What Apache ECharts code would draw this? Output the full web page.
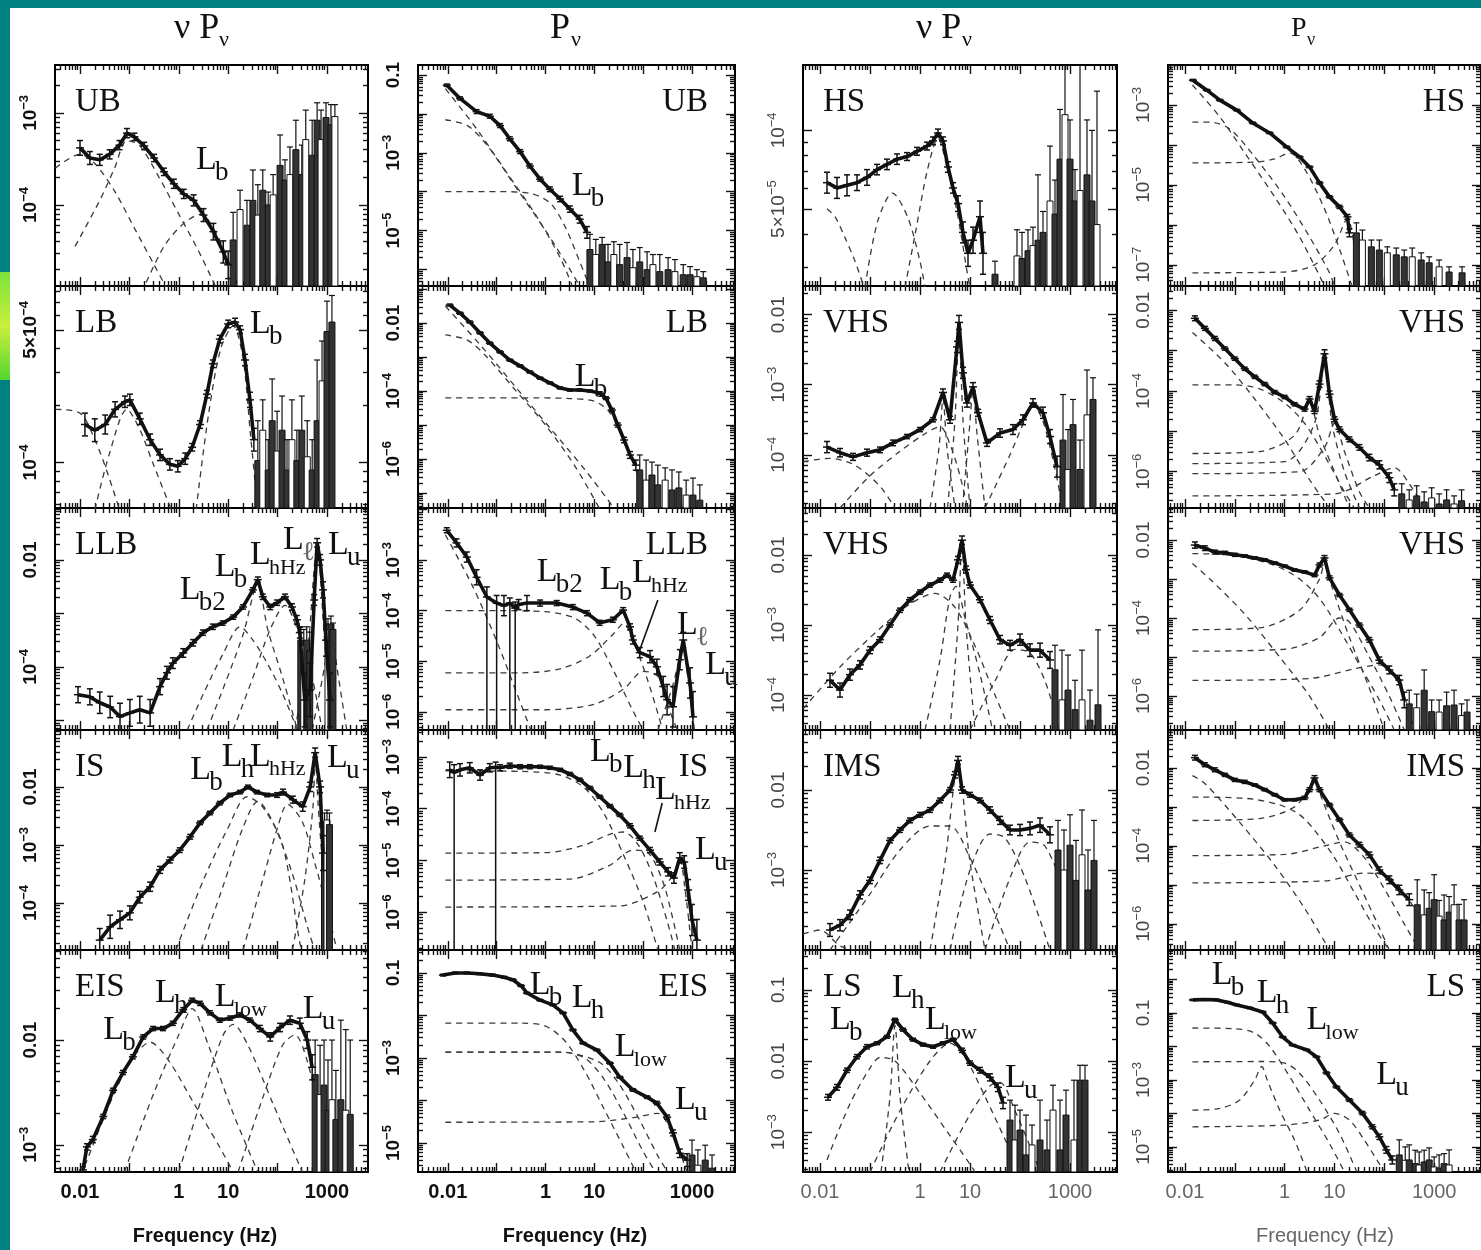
<!DOCTYPE html>
<html><head><meta charset="utf-8">
<script src="https://cdn.jsdelivr.net/npm/echarts@6/dist/echarts.min.js"></script>
<style>html,body{margin:0;padding:0;background:#fff;}#c{width:1481px;height:1250px;}</style>
</head><body><div id="c"></div>
<script>
// All values are stored as log10(frequency / Hz) and log10(power).
// Points: [logF, logP, errDown(dex), errUp(dex, optional)]; noise: [logF, logP, logTopOfErrorBar]
// Components: [[logF, logP], ...]; marks: [subscript, logF, logP]

const xTickValues = [0.01, 1, 10, 1000];
const xTickLabels = ['0.01', '1', '10', '1000'];

// ===== column 1 : nu P_nu =====
const ubAPts = [[-2.0,-3.38,0.08],[-1.8,-3.49,0.07],[-1.6,-3.51,0.06],[-1.4,-3.45,0.05],[-1.2,-3.35,0.05],[-1.05,-3.22,0.05],[-0.9,-3.26,0.04],[-0.7,-3.36,0.04],[-0.5,-3.49,0.04],[-0.3,-3.64,0.04],[-0.1,-3.77,0.05],[0.1,-3.88,0.05],[0.3,-3.95,0.06],[0.5,-4.11,0.07],[0.7,-4.29,0.09],[0.9,-4.51,0.12],[1.0,-4.65,0.15]];
const ubANoise = [[1.10,-4.38,-4.08],[1.24,-4.05,-3.84],[1.38,-4.22,-3.95],[1.50,-3.95,-3.62],[1.60,-4.11,-3.78],[1.70,-3.84,-3.62],[1.81,-4.00,-3.86],[1.91,-3.89,-3.67],[2.05,-3.57,-3.24],[2.15,-3.73,-3.51],[2.25,-3.67,-3.37],[2.37,-3.40,-3.08],[2.49,-3.67,-3.35],[2.57,-3.29,-2.97],[2.70,-3.46,-3.08],[2.80,-3.08,-2.89],[2.88,-3.29,-2.97],[2.98,-3.05,-2.89],[3.08,-3.13,-2.91],[3.16,-3.04,-2.91]];
const ubAComps = [
  [[-2.5,-3.6],[-2.0,-3.45],[-1.7,-3.55],[-1.3,-3.85],[-0.9,-4.25],[-0.5,-4.65],[-0.2,-4.95]],
  [[-2.1,-4.45],[-1.6,-3.95],[-1.3,-3.6],[-1.05,-3.3],[-0.8,-3.35],[-0.4,-3.7],[0.0,-4.1],[0.4,-4.5],[0.8,-4.95]],
  [[-0.75,-4.95],[-0.3,-4.45],[0.1,-4.2],[0.45,-4.1],[0.75,-4.3],[1.0,-4.6],[1.25,-4.95]]];
const ubAMarks = [['b',0.35,-3.51]];

const lbAPts = [[-1.90,-3.80,0.06],[-1.70,-3.83,0.06],[-1.49,-3.80,0.05],[-1.29,-3.72,0.04],[-1.09,-3.68,0.03],[-0.99,-3.67,0.03],[-0.79,-3.77,0.03],[-0.58,-3.88,0.03],[-0.38,-3.96,0.03],[-0.18,-4.01,0.03],[-0.02,-4.02,0.03],[0.13,-3.98,0.03],[0.27,-3.92,0.02],[0.43,-3.80,0.02],[0.57,-3.64,0.02],[0.69,-3.48,0.02],[0.83,-3.35,0.02],[1.00,-3.27,0.02],[1.14,-3.26,0.02],[1.24,-3.30,0.02],[1.34,-3.46,0.03],[1.44,-3.67,0.04],[1.52,-3.88,0.06]];
const lbANoise = [[1.60,-3.99,-3.78],[1.70,-3.83,-3.67],[1.81,-4.04,-3.88],[1.89,-3.78,-3.56],[1.99,-3.94,-3.73],[2.09,-3.83,-3.65],[2.19,-4.04,-3.88],[2.29,-3.88,-3.67],[2.39,-3.99,-3.83],[2.49,-3.83,-3.65],[2.60,-3.97,-3.78],[2.70,-4.04,-3.88],[2.80,-3.78,-3.46],[2.90,-3.57,-3.36],[3.00,-3.31,-3.15],[3.10,-3.26,-3.12]];
const lbAComps = [
  [[-2.5,-3.72],[-2.0,-3.74],[-1.7,-3.88],[-1.45,-4.05],[-1.2,-4.25]],
  [[-1.7,-4.25],[-1.4,-3.95],[-1.05,-3.72],[-0.8,-3.82],[-0.5,-4.02],[-0.15,-4.25]],
  [[0.35,-4.25],[0.6,-3.75],[0.85,-3.4],[1.1,-3.28],[1.3,-3.45],[1.45,-3.85],[1.6,-4.25]]];
const lbAMarks = [['b',1.44,-3.27]];

const llbAPts = [[-2.04,-4.52,0.15],[-1.80,-4.56,0.15],[-1.60,-4.67,0.2],[-1.39,-4.75,0.2],[-1.19,-4.93,0.25],[-0.99,-4.86,0.25],[-0.79,-4.80,0.25],[-0.58,-4.86,0.25],[-0.38,-4.37,0.15],[-0.24,-4.11,0.12],[-0.12,-3.93,0.1],[0.09,-3.74,0.08],[0.29,-3.55,0.06],[0.49,-3.36,0.05],[0.69,-3.25,0.05],[0.89,-3.18,0.04],[1.10,-3.07,0.04],[1.30,-2.88,0.04],[1.50,-2.56,0.04],[1.60,-2.37,0.05],[1.70,-2.69,0.05],[1.85,-2.88,0.05],[1.99,-2.80,0.05],[2.15,-2.69,0.05],[2.29,-2.88,0.06],[2.39,-3.12,0.08],[2.45,-3.36,0.1],[2.55,-4.62,0.5],[2.66,-4.43,0.5],[2.74,-2.75,0.1],[2.80,-1.68,0.08],[2.86,-2.0,0.1],[2.92,-2.56,0.15],[2.98,-3.5,0.3],[3.06,-4.62,0.5]];
const llbANoise = [[2.47,-3.5,-3.25],[2.53,-3.6,-3.3],[2.59,-3.5,-3.25],[2.65,-3.7,-3.35],[3.02,-3.3,-3.1],[3.08,-3.2,-3.05],[3.12,-3.3,-3.18]];
const llbAComps = [
  [[0.17,-5.18],[0.5,-4.5],[0.9,-3.75],[1.24,-3.25],[1.5,-3.5],[1.8,-3.95],[2.1,-4.5],[2.4,-5.18]],
  [[0.57,-5.18],[0.9,-4.4],[1.3,-3.4],[1.6,-2.45],[1.8,-3.3],[2.1,-4.2],[2.4,-5.18]],
  [[1.1,-5.18],[1.5,-4.2],[1.85,-3.3],[2.15,-2.85],[2.4,-3.3],[2.7,-4.2],[2.9,-5.18]],
  [[2.35,-5.18],[2.6,-3.8],[2.8,-1.75],[2.95,-3.5],[3.1,-5.18]],
  [[2.7,-5.18],[2.95,-4.0],[3.08,-3.2],[3.2,-4.0],[3.4,-5.18]]];
const llbAMarks = [['b2',0.02,-2.56],['b',0.73,-2.13],['hHz',1.44,-1.91],['\u2113',2.11,-1.63],['u',3.02,-1.72]];

const isAPts = [[-1.60,-4.64,0.2],[-1.39,-4.41,0.2],[-1.19,-4.29,0.15],[-0.99,-4.17,0.12],[-0.79,-3.90,0.1],[-0.58,-3.72,0.08],[-0.38,-3.43,0.06],[-0.18,-3.26,0.05],[0.02,-3.09,0.04],[0.23,-2.86,0.04],[0.43,-2.62,0.03],[0.63,-2.45,0.03],[0.83,-2.28,0.03],[1.04,-2.14,0.03],[1.24,-2.09,0.03],[1.40,-2.00,0.03],[1.58,-2.09,0.03],[1.79,-2.14,0.03],[1.99,-2.14,0.04],[2.11,-2.09,0.05],[2.31,-2.22,0.06],[2.51,-2.34,0.08],[2.66,-2.00,0.08],[2.76,-1.41,0.08],[2.86,-2.00,0.1],[2.92,-3.14,0.3]];
const isANoise = [[2.95,-2.6,-2.45],[3.0,-2.57,-2.4],[3.05,-2.65,-2.45]];
const isAComps = [
  [[-0.06,-4.81],[0.5,-3.6],[1.0,-2.7],[1.38,-2.17],[1.7,-2.35],[2.1,-3.0],[2.45,-4.69],[2.5,-4.81]],
  [[0.45,-4.81],[0.9,-3.7],[1.3,-2.7],[1.6,-2.25],[1.9,-2.6],[2.3,-3.5],[2.6,-4.4],[2.75,-4.81]],
  [[1.3,-4.81],[1.7,-3.6],[2.0,-2.7],[2.2,-2.3],[2.5,-2.6],[2.75,-3.3],[3.0,-4.1],[3.2,-4.81]],
  [[2.3,-4.81],[2.55,-3.6],[2.72,-2.3],[2.76,-1.45],[2.82,-2.3],[2.95,-3.8],[3.05,-4.81]]];
const isAMarks = [['b',0.23,-1.71],['h',0.87,-1.48],['hHz',1.44,-1.48],['u',3.0,-1.5]];

const eisAPts = [[-1.94,-3.24,0.03],[-1.86,-3.02,0.03],[-1.74,-2.95,0.03],[-1.53,-2.73,0.02],[-1.33,-2.48,0.02],[-1.13,-2.31,0.02],[-0.93,-2.16,0.02],[-0.72,-1.97,0.02],[-0.52,-1.89,0.02],[-0.32,-1.89,0.02],[-0.12,-1.84,0.02],[0.09,-1.71,0.02],[0.27,-1.62,0.02],[0.43,-1.65,0.02],[0.63,-1.74,0.02],[0.83,-1.81,0.02],[1.04,-1.79,0.02],[1.24,-1.76,0.02],[1.44,-1.81,0.02],[1.64,-1.89,0.03],[1.85,-1.97,0.04],[2.05,-1.88,0.04],[2.25,-1.81,0.04],[2.45,-1.84,0.05],[2.60,-2.00,0.08],[2.70,-2.26,0.12]];
const eisANoise = [[2.76,-2.33,-2.0],[2.86,-2.52,-2.05],[2.94,-2.43,-2.0],[3.02,-2.67,-2.19],[3.10,-2.57,-2.0],[3.18,-2.76,-2.29],[3.28,-2.57,-1.81],[3.38,-2.67,-1.90],[3.47,-2.71,-2.0]];
const eisAComps = [
  [[-1.9,-3.2],[-1.3,-2.5],[-0.9,-2.15],[-0.58,-2.02],[-0.2,-2.2],[0.3,-2.6],[0.8,-3.0],[1.1,-3.26]],
  [[-1.1,-3.26],[-0.5,-2.5],[0.0,-1.95],[0.27,-1.7],[0.6,-2.05],[1.1,-2.7],[1.6,-3.26]],
  [[0.0,-3.26],[0.5,-2.5],[0.9,-1.95],[1.1,-1.85],[1.4,-2.05],[1.9,-2.6],[2.5,-3.26]],
  [[1.2,-3.26],[1.7,-2.55],[2.1,-2.05],[2.35,-1.95],[2.6,-2.2],[2.9,-2.8],[3.1,-3.26]]];
const eisAMarks = [['b',-1.53,-1.90],['h',-0.48,-1.55],['low',0.73,-1.59],['u',2.51,-1.70]];

// ===== column 2 : P_nu =====
const ubBPts = [[-2.02,-1.26,0.03],[-1.75,-1.60,0.04],[-1.41,-1.94,0.05],[-1.14,-2.06,0.05],[-0.93,-2.30,0.05],[-0.73,-2.64,0.05],[-0.52,-2.97,0.05],[-0.32,-3.34,0.05],[-0.11,-3.68,0.05],[0.09,-3.94,0.06],[0.30,-4.19,0.07],[0.50,-4.45,0.08],[0.70,-4.71,0.1],[0.85,-5.05,0.15]];
const ubBNoise = [[0.91,-5.49,-5.10],[1.03,-5.62,-5.23],[1.16,-5.36,-5.18],[1.28,-5.81,-5.36],[1.40,-5.62,-5.29],[1.52,-5.88,-5.36],[1.67,-5.70,-5.31],[1.79,-5.96,-5.49],[1.93,-5.81,-5.44],[2.08,-6.01,-5.55],[2.20,-5.88,-5.62],[2.34,-6.06,-5.62],[2.51,-6.01,-5.70],[2.65,-6.06,-5.75],[2.82,-6.14,-5.88],[2.96,-6.14,-5.93],[3.10,-6.19,-6.01],[3.23,-6.22,-6.06]];
const ubBComps = [
  [[-2.05,-2.15],[-1.6,-2.3],[-1.2,-2.8],[-0.6,-3.9],[0.0,-5.0],[0.5,-6.0],[0.7,-6.43]],
  [[-2.05,-1.35],[-1.4,-2.4],[-0.8,-3.5],[-0.2,-4.6],[0.3,-5.7],[0.55,-6.43]],
  [[-2.05,-4.0],[-1.0,-4.0],[-0.3,-4.05],[0.1,-4.3],[0.4,-4.9],[0.7,-5.8],[0.9,-6.43]]];
const ubBMarks = [['b',0.54,-3.86]];

const lbBPts = [[-1.96,-1.47,0.03],[-1.75,-1.71,0.03],[-1.55,-1.97,0.03],[-1.34,-2.29,0.03],[-1.14,-2.59,0.03],[-0.93,-2.85,0.03],[-0.73,-3.09,0.03],[-0.52,-3.26,0.03],[-0.32,-3.44,0.03],[-0.11,-3.62,0.03],[0.09,-3.76,0.03],[0.30,-3.91,0.03],[0.50,-3.97,0.03],[0.70,-3.97,0.03],[0.91,-4.00,0.03],[1.11,-4.06,0.04],[1.24,-4.21,0.04],[1.36,-4.56,0.05],[1.48,-5.00,0.06],[1.61,-5.44,0.08],[1.73,-5.88,0.1],[1.85,-6.18,0.15]];
const lbBNoise = [[1.93,-6.32,-5.88],[2.06,-6.62,-6.03],[2.18,-6.47,-6.09],[2.30,-6.76,-6.18],[2.45,-6.62,-6.26],[2.59,-6.91,-6.32],[2.73,-6.85,-6.38],[2.88,-7.06,-6.62],[3.02,-7.06,-6.56],[3.16,-7.21,-6.76]];
const lbBComps = [
  [[-2.05,-2.35],[-1.6,-2.5],[-1.2,-3.0],[-0.6,-4.0],[0.0,-5.0],[0.6,-6.2],[1.1,-7.44]],
  [[-2.05,-1.5],[-1.3,-2.7],[-0.6,-3.9],[0.1,-5.1],[0.8,-6.3],[1.4,-7.44]],
  [[-2.05,-4.2],[-0.5,-4.2],[0.5,-4.22],[1.0,-4.3],[1.3,-4.6],[1.6,-5.4],[1.9,-6.5],[2.2,-7.44]]];
const lbBMarks = [['b',0.60,-3.59]];

const llbBPts = [[-2.02,-2.41,0.05],[-1.82,-2.66,0.08],[-1.61,-2.94,0.1],[-1.41,-3.34,0.15],[-1.20,-3.73,3,0.2],[-1.00,-3.85,3,0.15],[-0.85,-3.9,0.2],[-0.73,-3.85,3,0.1],[-0.62,-3.95,3,0.12],[-0.55,-3.88,0.1],[-0.38,-3.85,0.15],[-0.11,-3.85,0.06],[0.23,-3.85,0.05],[0.56,-3.93,0.05],[0.85,-4.05,0.05],[1.11,-4.24,0.05],[1.38,-4.18,0.05],[1.59,-3.99,0.05],[1.73,-4.32,0.06],[1.79,-4.58,0.08],[1.93,-4.83,0.1],[2.14,-4.91,0.12],[2.28,-5.11,0.15],[2.41,-5.50,0.2],[2.49,-5.76,0.3],[2.61,-5.90,0.4],[2.75,-4.97,0.2],[2.82,-4.58,0.15],[2.96,-5.43,0.3],[3.02,-6.10,0.5]];
const llbBNoise = [];
const llbBComps = [
  [[-2.05,-4.0],[-1.0,-4.0],[0.0,-4.02],[0.6,-4.15],[1.0,-4.5],[1.4,-5.2],[1.8,-6.0],[2.0,-6.36]],
  [[-2.05,-5.23],[-0.5,-5.23],[0.3,-5.15],[0.9,-4.9],[1.4,-4.45],[1.6,-4.25],[1.8,-4.6],[2.1,-5.4],[2.4,-6.36]],
  [[-2.05,-5.96],[0.0,-5.96],[1.0,-5.85],[1.6,-5.55],[2.0,-5.2],[2.3,-5.3],[2.55,-6.0],[2.7,-6.36]],
  [[-2.05,-2.5],[-1.5,-3.5],[-1.0,-4.6],[-0.6,-5.6],[-0.3,-6.36]],
  [[2.3,-6.36],[2.6,-5.5],[2.75,-4.9],[2.82,-4.6],[2.9,-5.2],[3.05,-6.36]]];
const llbBMarks = [['b2',-0.18,-3.24],['b',1.11,-3.39],['hHz',1.77,-3.26],['\u2113',2.69,-4.28],['u',3.27,-5.07]];
const llbBArrow = [[2.30,-3.79],[1.93,-4.78]];

const isBPts = [[-1.96,-3.25,0.15],[-1.87,-3.3,4,0.15],[-1.75,-3.25,0.12],[-1.55,-3.21,0.1],[-1.34,-3.35,0.1],[-1.14,-3.21,0.08],[-1.02,-3.2,4,0.1],[-0.93,-3.21,0.06],[-0.73,-3.17,0.05],[-0.52,-3.19,0.04],[-0.32,-3.19,0.04],[-0.11,-3.19,0.03],[0.09,-3.21,0.03],[0.30,-3.25,0.03],[0.50,-3.33,0.03],[0.70,-3.44,0.03],[0.91,-3.60,0.03],[1.11,-3.77,0.03],[1.32,-3.95,0.03],[1.52,-4.12,0.03],[1.73,-4.33,0.04],[1.93,-4.57,0.04],[2.14,-4.80,0.05],[2.34,-5.03,0.06],[2.51,-5.22,0.08],[2.63,-5.34,0.1],[2.75,-4.95,0.1],[2.84,-5.03,0.12],[2.92,-5.57,0.2],[3.00,-6.15,0.3],[3.10,-6.54,0.4]];
const isBNoise = [];
const isBComps = [
  [[-2.05,-3.27],[-0.5,-3.28],[0.3,-3.35],[0.8,-3.6],[1.2,-4.1],[1.6,-4.9],[2.0,-5.8],[2.3,-6.73]],
  [[-2.05,-4.86],[0.0,-4.85],[0.8,-4.7],[1.3,-4.5],[1.6,-4.45],[1.9,-4.7],[2.2,-5.3],[2.5,-6.2],[2.65,-6.73]],
  [[-2.05,-5.38],[0.5,-5.36],[1.3,-5.1],[1.8,-4.8],[2.1,-4.85],[2.4,-5.4],[2.6,-6.1],[2.75,-6.73]],
  [[-2.05,-5.9],[1.5,-5.88],[2.3,-5.6],[2.6,-5.3],[2.75,-5.0],[2.85,-5.5],[3.0,-6.73]]];
const isBMarks = [['b',0.91,-2.90],['h',1.59,-3.21],['hHz',2.24,-3.64],['u',3.06,-4.80]];
const isBArrow = [[2.39,-3.89],[2.24,-4.45]];

const eisBPts = [[-2.10,-1.05,0.02],[-1.85,-1.0,0.02],[-1.61,-1.00,0.02],[-1.35,-1.02,0.02],[-1.08,-1.05,0.02],[-0.85,-1.1,0.02],[-0.67,-1.16,0.02],[-0.50,-1.30,0.02],[-0.38,-1.47,0.02],[-0.11,-1.64,0.02],[0.15,-1.75,0.02],[0.36,-1.94,0.02],[0.56,-2.34,0.02],[0.77,-2.65,0.02],[1.05,-2.81,0.02],[1.32,-3.12,0.02],[1.52,-3.45,0.02],[1.79,-3.75,0.03],[2.08,-3.92,0.03],[2.28,-4.06,0.04],[2.49,-4.39,0.05],[2.61,-4.76,0.07],[2.75,-5.24,0.1],[2.90,-5.40,0.15]];
const eisBNoise = [[3.00,-5.28,-4.93],[3.12,-5.52,-5.16],[3.27,-5.40,-5.05],[3.41,-5.59,-5.28]];
const eisBComps = [
  [[-2.05,-2.18],[-0.5,-2.18],[0.0,-2.25],[0.4,-2.6],[0.8,-3.3],[1.2,-4.2],[1.6,-5.1],[1.85,-5.68]],
  [[-2.05,-2.86],[0.3,-2.86],[0.8,-3.0],[1.2,-3.5],[1.6,-4.3],[2.0,-5.2],[2.25,-5.68]],
  [[-2.05,-2.86],[0.3,-2.86],[1.1,-3.1],[1.5,-3.6],[1.9,-4.4],[2.3,-5.3],[2.5,-5.68]],
  [[-2.05,-4.51],[1.0,-4.5],[1.8,-4.4],[2.3,-4.3],[2.6,-4.8],[2.9,-5.68]]];
const eisBMarks = [['b',-0.32,-1.28],['h',0.54,-1.59],['low',1.42,-2.74],['u',2.65,-3.99]];

// ===== column 3 : nu P_nu =====
const hsCPts = [[-1.86,-4.20,0.04],[-1.66,-4.22,0.04],[-1.46,-4.21,0.04],[-1.26,-4.20,0.03],[-1.06,-4.18,0.03],[-0.86,-4.15,0.02],[-0.66,-4.13,0.02],[-0.46,-4.11,0.02],[-0.26,-4.10,0.015],[-0.06,-4.08,0.015],[0.14,-4.06,0.015],[0.26,-4.04,0.015],[0.36,-4.01,0.015],[0.46,-4.04,0.015],[0.56,-4.14,0.02],[0.66,-4.22,0.02],[0.76,-4.28,0.03],[0.86,-4.39,0.04],[0.96,-4.47,0.05],[1.06,-4.42,0.05],[1.20,-4.33,0.06],[1.26,-4.47,0.08]];
const hsCNoise = [[1.5,-4.55,-4.5],[1.94,-4.48,-4.38],[2.04,-4.49,-4.39],[2.16,-4.46,-4.38],[2.26,-4.44,-4.37],[2.36,-4.42,-4.17],[2.46,-4.39,-4.31],[2.60,-4.27,-4.06],[2.70,-4.32,-4.19],[2.80,-4.11,-3.92],[2.90,-3.94,-3.75],[3.00,-4.11,-3.96],[3.10,-4.27,-4.15],[3.20,-4.23,-3.75],[3.34,-4.17,-3.96],[3.44,-4.27,-4.00],[3.54,-4.36,-3.85]];
const hsCComps = [
  [[-1.86,-4.30],[-1.7,-4.33],[-1.5,-4.41],[-1.3,-4.5],[-1.12,-4.6]],
  [[-1.1,-4.6],[-0.85,-4.35],[-0.55,-4.24],[-0.25,-4.33],[0.0,-4.5],[0.1,-4.6]],
  [[-0.3,-4.6],[-0.1,-4.4],[0.15,-4.15],[0.36,-4.03],[0.55,-4.15],[0.75,-4.32],[0.95,-4.55],[1.0,-4.6]]];
const hsCMarks = [];

const vhsCPts = [[-1.86,-3.89,0.08],[-1.60,-3.97,0.06],[-1.34,-4.03,0.05],[-1.06,-3.97,0.05],[-0.80,-3.93,0.04],[-0.54,-3.83,0.04],[-0.26,-3.74,0.03],[0.00,-3.64,0.03],[0.26,-3.50,0.03],[0.46,-3.11,0.05],[0.60,-3.50,0.05],[0.74,-2.46,0.08],[0.78,-2.11,0.1],[0.86,-2.83,0.08],[0.94,-3.26,0.06],[1.06,-3.03,0.06],[1.16,-3.40,0.05],[1.34,-3.83,0.05],[1.60,-3.69,0.06],[1.86,-3.64,0.07],[2.06,-3.50,0.07],[2.26,-3.26,0.06],[2.46,-3.40,0.08],[2.60,-3.74,0.1],[2.74,-4.17,0.15]];
const vhsCNoise = [[2.86,-3.79,-3.14],[2.96,-4.21,-3.64],[3.06,-3.57,-3.21],[3.20,-4.21,-3.79],[3.34,-3.43,-2.79],[3.46,-3.21,-2.90]];
const vhsCComps = [
  [[-2.34,-4.1],[-1.8,-4.05],[-1.3,-4.15],[-0.8,-4.45],[-0.5,-4.76]],
  [[-1.6,-4.76],[-1.0,-4.3],[-0.4,-3.95],[0.1,-3.7],[0.4,-3.6],[0.6,-3.85],[0.8,-4.3],[0.95,-4.76]],
  [[0.2,-4.76],[0.38,-3.9],[0.46,-3.2],[0.54,-3.9],[0.7,-4.76]],
  [[0.55,-4.76],[0.7,-3.5],[0.78,-2.15],[0.86,-3.5],[1.0,-4.76]],
  [[0.85,-4.76],[0.98,-3.7],[1.06,-3.1],[1.14,-3.7],[1.3,-4.76]],
  [[1.3,-4.76],[1.8,-4.0],[2.1,-3.5],[2.26,-3.3],[2.45,-3.5],[2.7,-4.2],[2.85,-4.76]]];
const vhsCMarks = [];

const vhs2CPts = [[-1.80,-3.79,0.1],[-1.60,-3.93,0.1],[-1.40,-3.71,0.08],[-1.20,-3.57,0.06],[-1.00,-3.36,0.05],[-0.80,-3.21,0.04],[-0.60,-3.00,0.03],[-0.40,-2.79,0.03],[-0.20,-2.64,0.03],[0.00,-2.53,0.03],[0.20,-2.43,0.03],[0.40,-2.36,0.03],[0.54,-2.29,0.03],[0.66,-2.36,0.03],[0.76,-2.07,0.05],[0.84,-1.79,0.06],[0.92,-2.21,0.05],[1.00,-2.43,0.04],[1.20,-2.64,0.04],[1.40,-2.93,0.05],[1.60,-3.21,0.06],[1.80,-3.29,0.07],[2.00,-3.21,0.08],[2.20,-3.36,0.09],[2.40,-3.36,0.1],[2.60,-3.50,0.12]];
const vhs2CNoise = [[2.70,-3.64,-3.29],[2.84,-4.07,-3.36],[2.96,-3.93,-3.43],[3.10,-4.21,-3.79],[3.24,-4.07,-3.36],[3.40,-4.36,-3.93],[3.56,-4.14,-3.07]];
const vhs2CComps = [
  [[-2.34,-4.2],[-1.6,-3.6],[-0.8,-3.05],[-0.2,-2.7],[0.3,-2.55],[0.7,-2.75],[1.1,-3.3],[1.5,-4.0],[1.8,-4.5]],
  [[0.1,-4.5],[0.4,-3.5],[0.6,-2.6],[0.72,-2.45],[0.9,-2.9],[1.2,-3.7],[1.45,-4.5]],
  [[0.6,-4.5],[0.76,-3.0],[0.84,-1.85],[0.92,-3.0],[1.1,-4.5]],
  [[1.0,-4.5],[1.5,-3.8],[1.9,-3.35],[2.2,-3.4],[2.5,-3.8],[2.8,-4.5]]];
const vhs2CMarks = [];

const imsCPts = [[-1.80,-3.75,0.08],[-1.60,-3.69,0.07],[-1.40,-3.56,0.06],[-1.20,-3.31,0.05],[-1.00,-3.13,0.04],[-0.80,-2.88,0.04],[-0.60,-2.63,0.03],[-0.40,-2.50,0.03],[-0.20,-2.38,0.03],[0.00,-2.31,0.03],[0.20,-2.25,0.03],[0.40,-2.13,0.03],[0.60,-2.00,0.03],[0.70,-1.81,0.04],[0.76,-1.63,0.05],[0.84,-2.00,0.04],[1.00,-2.06,0.03],[1.20,-2.13,0.03],[1.40,-2.25,0.04],[1.60,-2.38,0.05],[1.80,-2.50,0.06],[2.00,-2.50,0.07],[2.20,-2.48,0.08],[2.40,-2.44,0.09],[2.60,-2.56,0.1]];
const imsCNoise = [[2.76,-2.75,-2.38],[2.88,-3.0,-2.5],[3.0,-2.69,-2.31],[3.12,-3.13,-2.63],[3.24,-2.81,-2.25],[3.36,-3.25,-2.75],[3.48,-2.88,-2.38]];
const imsCComps = [
  [[-2.34,-3.8],[-2.0,-3.75],[-1.6,-3.95],[-1.3,-4.0]],
  [[-1.8,-4.0],[-1.0,-3.3],[-0.4,-2.75],[0.2,-2.45],[0.6,-2.45],[1.0,-2.85],[1.4,-3.4],[1.8,-4.0]],
  [[0.2,-4.0],[0.5,-2.9],[0.76,-1.7],[1.0,-2.9],[1.3,-4.0]],
  [[0.6,-4.0],[1.0,-3.0],[1.4,-2.55],[1.7,-2.6],[2.1,-3.1],[2.6,-4.0]],
  [[1.3,-4.0],[1.8,-3.1],[2.2,-2.65],[2.5,-2.7],[2.9,-3.3],[3.2,-4.0]]];
const imsCMarks = [];

const lsCPts = [[-1.84,-2.51,0.04],[-1.66,-2.37,0.04],[-1.46,-2.13,0.03],[-1.26,-1.94,0.03],[-1.06,-1.80,0.03],[-0.86,-1.75,0.02],[-0.66,-1.66,0.02],[-0.50,-1.42,0.02],[-0.34,-1.56,0.02],[-0.14,-1.70,0.02],[0.06,-1.77,0.02],[0.26,-1.80,0.02],[0.46,-1.75,0.02],[0.66,-1.70,0.02],[0.84,-1.85,0.03],[1.00,-2.03,0.03],[1.20,-2.13,0.04],[1.40,-2.23,0.05],[1.56,-2.37,0.06],[1.66,-2.59,0.08]];
const lsCNoise = [[1.80,-2.83,-2.55],[1.90,-3.11,-2.62],[2.00,-2.97,-2.69],[2.12,-3.32,-2.76],[2.24,-3.18,-2.90],[2.40,-3.11,-2.55],[2.54,-3.25,-2.83],[2.66,-2.69,-2.34],[2.80,-3.25,-2.55],[2.92,-2.76,-2.41],[3.08,-3.11,-2.27],[3.20,-2.27,-2.06],[3.30,-2.27,-2.06]];
const lsCComps = [
  [[-1.86,-3.39],[-1.4,-2.6],[-1.0,-2.1],[-0.8,-1.95],[-0.5,-2.0],[0.0,-2.45],[0.6,-3.05],[1.0,-3.45],[1.1,-3.56]],
  [[-0.78,-3.56],[-0.6,-2.5],[-0.5,-1.5],[-0.4,-2.5],[-0.22,-3.56]],
  [[-1.0,-3.56],[-0.4,-2.7],[0.2,-2.0],[0.6,-1.75],[0.9,-1.95],[1.3,-2.5],[1.7,-3.1],[2.0,-3.56]],
  [[0.4,-3.56],[1.0,-2.75],[1.4,-2.35],[1.6,-2.3],[1.9,-2.7],[2.2,-3.2],[2.4,-3.56]]];
const lsCMarks = [['b',-1.8,-1.42],['h',-0.56,-0.97],['low',0.10,-1.42],['u',1.70,-2.24]];

// ===== column 4 : P_nu =====
const hsDPts = [[-1.84,-2.38,0.02],[-1.56,-2.63,0.02],[-1.30,-2.88,0.02],[-0.96,-3.13,0.02],[-0.64,-3.45,0.02],[-0.30,-3.70,0.02],[0.04,-4.05,0.02],[0.30,-4.30,0.02],[0.50,-4.55,0.02],[0.70,-4.95,0.03],[0.90,-5.30,0.03],[1.10,-5.55,0.04],[1.26,-5.80,0.06],[1.30,-6.20,0.1]];
const hsDNoise = [[1.44,-6.20,-5.95],[1.56,-6.38,-6.13],[1.74,-6.55,-6.38],[1.90,-6.63,-6.38],[2.06,-6.70,-6.55],[2.24,-6.75,-6.58],[2.40,-6.80,-6.63],[2.56,-6.80,-6.58],[2.74,-6.88,-6.70],[2.90,-6.95,-6.80],[3.10,-7.05,-6.88],[3.30,-7.18,-7.05],[3.56,-7.20,-7.05]];
const hsDComps = [
  [[-1.85,-3.43],[-1.5,-3.43],[-1.1,-3.6],[-0.6,-4.3],[0.0,-5.3],[0.5,-6.3],[0.9,-7.2],[1.0,-7.53]],
  [[-1.85,-4.45],[-0.6,-4.43],[-0.2,-4.35],[0.1,-4.2],[0.4,-4.6],[0.8,-5.6],[1.1,-6.6],[1.35,-7.53]],
  [[-1.85,-7.2],[0.0,-7.18],[0.6,-7.0],[1.0,-6.5],[1.26,-5.85],[1.4,-6.5],[1.55,-7.53]],
  [[-1.85,-2.5],[-1.3,-3.3],[-0.8,-4.2],[-0.2,-5.3],[0.3,-6.3],[0.8,-7.53]]];
const hsDMarks = [];

const vhsDPts = [[-1.80,-2.20,0.06],[-1.60,-2.45,0.05],[-1.40,-2.70,0.05],[-1.20,-2.95,0.04],[-1.00,-3.20,0.04],[-0.80,-3.45,0.04],[-0.60,-3.65,0.04],[-0.40,-3.83,0.04],[-0.20,-4.03,0.04],[0.00,-4.15,0.04],[0.20,-4.33,0.04],[0.40,-4.45,0.05],[0.50,-4.20,0.06],[0.60,-4.50,0.06],[0.70,-3.83,0.08],[0.80,-3.08,0.1],[0.90,-4.08,0.08],[1.00,-4.70,0.06],[1.10,-4.95,0.06],[1.30,-5.20,0.06],[1.50,-5.40,0.07],[1.70,-5.65,0.08],[1.90,-5.83,0.1],[2.10,-6.15,0.12],[2.20,-6.45,0.15]];
const vhsDNoise = [[2.35,-6.55,-6.3],[2.5,-6.7,-6.45],[2.65,-6.6,-6.35],[2.8,-6.75,-6.5],[2.95,-6.65,-6.4],[3.1,-6.8,-6.55],[3.25,-6.7,-6.45],[3.4,-6.8,-6.6],[3.55,-6.72,-6.45]];
const vhsDComps = [
  [[-1.85,-2.55],[-1.2,-3.3],[-0.6,-4.2],[0.0,-5.2],[0.5,-6.2],[0.9,-6.9]],
  [[-1.85,-3.85],[-1.0,-3.85],[-0.5,-3.95],[0.0,-4.3],[0.4,-4.8],[0.8,-5.6],[1.2,-6.5],[1.4,-6.9]],
  [[-1.85,-5.55],[-0.5,-5.5],[0.2,-5.1],[0.5,-4.3],[0.7,-5.1],[1.0,-6.0],[1.3,-6.9]],
  [[-1.85,-5.8],[0.0,-5.75],[0.6,-4.8],[0.8,-3.15],[0.95,-4.8],[1.2,-6.0],[1.5,-6.9]],
  [[-1.85,-6.05],[0.3,-6.0],[0.8,-5.4],[1.0,-4.8],[1.2,-5.5],[1.5,-6.5],[1.7,-6.9]],
  [[-1.85,-6.6],[1.0,-6.55],[1.8,-6.1],[2.2,-5.9],[2.5,-6.3],[2.8,-6.9]]];
const vhsDMarks = [];

const vhs2DPts = [[-1.80,-2.13,0.08],[-1.60,-2.21,0.06],[-1.40,-2.31,0.05],[-1.20,-2.33,0.04],[-1.00,-2.38,0.04],[-0.80,-2.41,0.03],[-0.60,-2.46,0.03],[-0.40,-2.51,0.03],[-0.20,-2.59,0.03],[0.00,-2.67,0.03],[0.20,-2.77,0.03],[0.40,-2.82,0.03],[0.60,-2.90,0.04],[0.70,-2.64,0.05],[0.80,-2.46,0.06],[0.90,-2.97,0.05],[1.10,-3.41,0.04],[1.30,-3.79,0.04],[1.50,-4.18,0.05],[1.70,-4.56,0.06],[1.90,-5.08,0.08],[2.10,-5.33,0.1],[2.30,-5.59,0.12],[2.40,-6.10,0.2]];
const vhs2DNoise = [[2.5,-6.2,-5.85],[2.65,-6.3,-5.95],[2.8,-5.85,-5.33],[2.95,-6.4,-6.1],[3.1,-6.41,-6.10],[3.25,-6.25,-5.9],[3.4,-6.23,-5.85],[3.55,-6.5,-6.2],[3.66,-6.41,-6.10]];
const vhs2DComps = [
  [[-1.85,-2.6],[-1.5,-3.0],[-0.8,-3.9],[-0.1,-5.0],[0.5,-6.0],[0.9,-6.87]],
  [[-1.85,-2.35],[-1.0,-2.4],[-0.2,-2.65],[0.3,-3.0],[0.7,-3.5],[1.1,-4.3],[1.5,-5.2],[1.9,-6.1],[2.2,-6.87]],
  [[-1.85,-4.3],[-0.5,-4.25],[0.3,-3.8],[0.7,-3.0],[0.8,-2.6],[0.95,-3.2],[1.3,-4.5],[1.7,-5.8],[2.0,-6.87]],
  [[-1.85,-4.85],[0.0,-4.8],[0.7,-4.5],[1.1,-4.0],[1.3,-4.1],[1.7,-5.0],[2.1,-6.0],[2.4,-6.87]],
  [[-1.85,-5.6],[0.5,-5.55],[1.4,-5.3],[1.9,-5.2],[2.3,-5.7],[2.6,-6.87]]];
const vhs2DMarks = [];

const imsDPts = [[-1.80,-1.74,0.06],[-1.60,-1.92,0.05],[-1.40,-2.05,0.05],[-1.20,-2.18,0.04],[-1.00,-2.31,0.04],[-0.80,-2.36,0.04],[-0.60,-2.44,0.03],[-0.40,-2.56,0.03],[-0.20,-2.69,0.03],[0.00,-2.82,0.03],[0.20,-2.82,0.03],[0.40,-2.77,0.04],[0.50,-2.56,0.05],[0.60,-2.26,0.06],[0.70,-2.56,0.05],[0.90,-2.95,0.04],[1.10,-3.33,0.04],[1.30,-3.72,0.05],[1.50,-3.97,0.06],[1.70,-4.23,0.07],[1.90,-4.62,0.08],[2.10,-4.87,0.1],[2.30,-5.13,0.12],[2.50,-5.38,0.15]];
const imsDNoise = [[2.66,-5.51,-4.87],[2.80,-5.77,-5.13],[2.9,-5.6,-5.2],[3.0,-5.38,-4.74],[3.1,-5.8,-5.4],[3.2,-5.90,-5.26],[3.3,-5.7,-5.3],[3.4,-5.51,-5.0],[3.5,-5.9,-5.5],[3.6,-5.90,-5.38]];
const imsDComps = [
  [[-1.85,-2.2],[-1.6,-2.4],[-0.9,-3.4],[-0.2,-4.5],[0.4,-5.6],[0.9,-6.67]],
  [[-1.85,-2.75],[-0.8,-2.78],[-0.1,-2.95],[0.3,-3.2],[0.6,-3.6],[1.0,-4.3],[1.4,-5.2],[1.8,-6.1],[2.1,-6.67]],
  [[-1.85,-3.35],[-0.5,-3.3],[0.2,-3.0],[0.5,-2.5],[0.6,-2.3],[0.75,-2.8],[1.1,-3.9],[1.5,-5.0],[1.9,-6.1],[2.1,-6.67]],
  [[-1.85,-4.25],[0.0,-4.22],[0.8,-4.0],[1.2,-3.9],[1.6,-4.3],[2.0,-5.1],[2.4,-6.0],[2.7,-6.67]],
  [[-1.85,-4.95],[0.8,-4.9],[1.6,-4.7],[2.1,-4.8],[2.5,-5.4],[2.9,-6.2],[3.2,-6.67]]];
const imsDMarks = [];

const lsDPts = [[-1.84,-0.61,0.02],[-1.60,-0.60,0.02],[-1.36,-0.61,0.02],[-1.15,-0.68,0.02],[-0.96,-0.76,0.02],[-0.70,-0.85,0.02],[-0.44,-0.97,0.02],[-0.24,-1.30,0.02],[-0.04,-1.72,0.02],[0.16,-1.96,0.02],[0.44,-2.10,0.02],[0.64,-2.31,0.02],[0.84,-2.79,0.03],[1.04,-3.21,0.03],[1.30,-3.60,0.04],[1.56,-3.99,0.05],[1.76,-4.40,0.06],[1.90,-4.70,0.08],[2.04,-5.09,0.1],[2.16,-5.39,0.12]];
const lsDNoise = [[2.30,-5.24,-4.79],[2.42,-5.4,-5.0],[2.50,-5.39,-4.94],[2.62,-5.5,-5.1],[2.70,-5.54,-5.15],[2.80,-5.45,-5.1],[2.90,-5.39,-5.03],[3.0,-5.6,-5.3],[3.10,-5.63,-5.24],[3.20,-5.5,-5.2],[3.30,-5.54,-5.09]];
const lsDComps = [
  [[-1.85,-1.45],[-1.0,-1.47],[-0.6,-1.6],[-0.3,-2.0],[0.1,-2.9],[0.5,-3.9],[0.9,-4.9],[1.2,-5.75]],
  [[-1.85,-3.9],[-1.3,-3.85],[-0.9,-3.6],[-0.6,-3.0],[-0.46,-2.6],[-0.35,-3.0],[-0.1,-3.9],[0.2,-4.8],[0.45,-5.75]],
  [[-1.85,-2.46],[-0.5,-2.45],[0.0,-2.5],[0.3,-2.8],[0.7,-3.6],[1.1,-4.6],[1.45,-5.75]],
  [[-1.85,-4.4],[0.0,-4.35],[0.7,-4.2],[1.0,-4.0],[1.3,-4.2],[1.6,-4.8],[2.0,-5.75]]];
const lsDMarks = [['b',-1.46,0.13],['h',-0.56,-0.40],['low',0.44,-1.21],['u',1.84,-2.85]];

// y tick labels: [value, mantissa, exponent]
const yl_a = [[1e-3,'10','−3'],[1e-4,'10','−4']];
const yl_b = [[5e-4,'5×10','−4'],[1e-4,'10','−4']];
const yl_c = [[1e-2,'0.01',''],[1e-4,'10','−4']];
const yl_d = [[1e-2,'0.01',''],[1e-3,'10','−3'],[1e-4,'10','−4']];
const yl_e = [[1e-2,'0.01',''],[1e-3,'10','−3']];
const yl_f = [[0.1,'0.1',''],[1e-3,'10','−3'],[1e-5,'10','−5']];
const yl_g = [[1e-2,'0.01',''],[1e-4,'10','−4'],[1e-6,'10','−6']];
const yl_h = [[1e-3,'10','−3'],[1e-4,'10','−4'],[1e-5,'10','−5'],[1e-6,'10','−6']];
const yl_i = [[1e-4,'10','−4'],[5e-5,'5×10','−5']];
const yl_j = [[0.1,'0.1',''],[1e-2,'0.01',''],[1e-3,'10','−3']];
const yl_k = [[1e-3,'10','−3'],[1e-5,'10','−5'],[1e-7,'10','−7']];

// ===== layout / panel configuration =====
const colLeft = [55, 418, 803, 1168], colRight = [368, 735, 1117, 1482];
const rowTop = [65, 286, 508, 730, 950], rowBot = [286, 508, 730, 950, 1172];
const xLogRange = [[-2.506, 3.83], [-2.61, 3.88], [-2.34, 3.94], [-2.34, 3.94]];

const panels = [
  {col:0,row:0,name:'UB', pts:ubAPts, noise:ubANoise, comps:ubAComps, marks:ubAMarks, yr:[-4.88,-2.48], yl:yl_a},
  {col:0,row:1,name:'LB', pts:lbAPts, noise:lbANoise, comps:lbAComps, marks:lbAMarks, yr:[-4.24,-3.07], yl:yl_b},
  {col:0,row:2,name:'LLB', pts:llbAPts, noise:llbANoise, comps:llbAComps, marks:llbAMarks, yr:[-5.18,-1.03], yl:yl_c},
  {col:0,row:3,name:'IS', pts:isAPts, noise:isANoise, comps:isAComps, marks:isAMarks, yr:[-4.81,-1.02], yl:yl_d},
  {col:0,row:4,name:'EIS', pts:eisAPts, noise:eisANoise, comps:eisAComps, marks:eisAMarks, yr:[-3.26,-1.14], yl:yl_e},
  {col:1,row:0,name:'UB', pts:ubBPts, noise:ubBNoise, comps:ubBComps, marks:ubBMarks, yr:[-6.43,-0.74], yl:yl_f},
  {col:1,row:1,name:'LB', pts:lbBPts, noise:lbBNoise, comps:lbBComps, marks:lbBMarks, yr:[-7.44,-0.91], yl:yl_g},
  {col:1,row:2,name:'LLB', pts:llbBPts, noise:llbBNoise, comps:llbBComps, marks:llbBMarks, arrow:llbBArrow, yr:[-6.36,-1.97], yl:yl_h},
  {col:1,row:3,name:'IS', pts:isBPts, noise:isBNoise, comps:isBComps, marks:isBMarks, arrow:isBArrow, yr:[-6.73,-2.48], yl:yl_h},
  {col:1,row:4,name:'EIS', pts:eisBPts, noise:eisBNoise, comps:eisBComps, marks:eisBMarks, yr:[-5.68,-0.46], yl:yl_f},
  {col:2,row:0,name:'HS', pts:hsCPts, noise:hsCNoise, comps:hsCComps, marks:hsCMarks, yr:[-4.595,-3.75], yl:yl_i},
  {col:2,row:1,name:'VHS', pts:vhsCPts, noise:vhsCNoise, comps:vhsCComps, marks:vhsCMarks, yr:[-4.76,-1.59], yl:yl_d},
  {col:2,row:2,name:'VHS', pts:vhs2CPts, noise:vhs2CNoise, comps:vhs2CComps, marks:vhs2CMarks, yr:[-4.5,-1.33], yl:yl_d},
  {col:2,row:3,name:'IMS', pts:imsCPts, noise:imsCNoise, comps:imsCComps, marks:imsCMarks, yr:[-4.0,-1.25], yl:yl_e},
  {col:2,row:4,name:'LS', pts:lsCPts, noise:lsCNoise, comps:lsCComps, marks:lsCMarks, yr:[-3.56,-0.44], yl:yl_j},
  {col:3,row:0,name:'HS', pts:hsDPts, noise:hsDNoise, comps:hsDComps, marks:hsDMarks, yr:[-7.53,-2.0], yl:yl_k},
  {col:3,row:1,name:'VHS', pts:vhsDPts, noise:vhsDNoise, comps:vhsDComps, marks:vhsDMarks, yr:[-6.9,-1.4], yl:yl_g},
  {col:3,row:2,name:'VHS', pts:vhs2DPts, noise:vhs2DNoise, comps:vhs2DComps, marks:vhs2DMarks, yr:[-6.87,-1.18], yl:yl_g},
  {col:3,row:3,name:'IMS', pts:imsDPts, noise:imsDNoise, comps:imsDComps, marks:imsDMarks, yr:[-6.67,-1.03], yl:yl_g},
  {col:3,row:4,name:'LS', pts:lsDPts, noise:lsDNoise, comps:lsDComps, marks:lsDMarks, yr:[-5.75,0.88], yl:yl_f}
];

// ===== builders =====
const P = v => Math.pow(10, v);
const L10 = v => Math.log10(v);
function decades(lo, hi) { const r = []; for (let n = Math.ceil(lo - 1e-9); n <= Math.floor(hi + 1e-9); n++) r.push(P(n)); return r; }
function minors(lo, hi, skip) {
  const r = [];
  for (let n = Math.floor(lo) - 1; n <= Math.ceil(hi); n++) for (let k = 2; k <= 9; k++) {
    const v = k * P(n), l = L10(v);
    if (l > lo && l < hi && !skip.some(s => Math.abs(L10(s) - l) < 1e-6)) r.push(v);
  }
  return r;
}
const tickLine = {color: '#111', width: 1.4};
const serif = '"Liberation Serif","DejaVu Serif",serif';
const sans = '"Liberation Sans","DejaVu Sans",sans-serif';

function errItem(params, api) {
  const x = api.value(0);
  const p = api.coord([x, api.value(1)]), lo = api.coord([x, api.value(2)]), hi = api.coord([x, api.value(3)]);
  const st = {stroke: '#111', lineWidth: 1.5};
  return {type: 'group', children: [
    {type: 'line', shape: {x1: p[0], y1: lo[1], x2: p[0], y2: hi[1]}, style: st},
    {type: 'line', shape: {x1: p[0] - 3, y1: hi[1], x2: p[0] + 3, y2: hi[1]}, style: st},
    {type: 'line', shape: {x1: p[0] - 3, y1: lo[1], x2: p[0] + 3, y2: lo[1]}, style: st},
    {type: 'line', shape: {x1: p[0] - 4, y1: p[1], x2: p[0] + 4, y2: p[1]}, style: st}
  ]};
}
function barItem(params, api) {
  const x = api.value(0);
  const p = api.coord([x, api.value(1)]), t = api.coord([x, api.value(2)]), b = api.coord([x, api.value(3)]);
  const light = params.dataIndex % 3 === 1;
  const st = {stroke: '#111', lineWidth: 1.2};
  return {type: 'group', children: [
    {type: 'rect', shape: {x: p[0] - 3, y: p[1], width: 6, height: b[1] - p[1]}, style: {fill: light ? '#fff' : '#333', stroke: '#111', lineWidth: 1}},
    {type: 'line', shape: {x1: p[0], y1: p[1], x2: p[0], y2: t[1]}, style: st},
    {type: 'line', shape: {x1: p[0] - 3, y1: t[1], x2: p[0] + 3, y2: t[1]}, style: st}
  ]};
}
function markItemFor(marks) {
  return function (params, api) {
    const p = api.coord([api.value(0), api.value(1)]);
    const sub = marks[params.dataIndex][0];
    return {type: 'group', children: [
      {type: 'text', x: p[0], y: p[1], style: {text: 'L', font: '34px ' + serif, fill: '#111', align: 'left', verticalAlign: 'middle'}},
      {type: 'text', x: p[0] + 19, y: p[1] + 13, style: {text: sub, font: (sub.length > 2 ? '22px ' : '27px ') + serif, fill: sub === '\u2113' ? '#666' : '#111', align: 'left', verticalAlign: 'middle'}}
    ]};
  };
}

const grids = [], xAxes = [], yAxes = [], series = [], graphics = [];
panels.forEach((pn, gi) => {
  const c = pn.col, r = pn.row;
  grids.push({left: colLeft[c], top: rowTop[r], width: colRight[c] - colLeft[c], height: rowBot[r] - rowTop[r],
    show: true, borderColor: '#000', borderWidth: 2, backgroundColor: 'transparent'});
  const [xlo, xhi] = xLogRange[c];
  const [ylo, yhi] = pn.yr;
  const bold = c < 2;
  const fw = bold ? 'bold' : 'normal', fc = bold ? '#111' : '#444';
  const xBase = {gridIndex: gi, type: 'log', logBase: 10, min: P(xlo), max: P(xhi), axisLine: {show: false}, splitLine: {show: false}};
  const xMaj = decades(xlo, xhi), xMin = minors(xlo, xhi, []);
  const xi = xAxes.length;
  xAxes.push(Object.assign({}, xBase, {position: 'bottom',
    axisTick: {show: true, inside: true, length: 9, customValues: xMaj, lineStyle: tickLine},
    axisLabel: {show: r === 4, customValues: xTickValues, margin: 10,
      formatter: v => xTickLabels[xTickValues.findIndex(t => Math.abs(L10(t) - L10(v)) < 1e-3)] || '',
      fontFamily: sans, fontSize: 20, fontWeight: fw, color: bold ? '#111' : '#666'}}));
  xAxes.push(Object.assign({}, xBase, {position: 'bottom', axisTick: {show: true, inside: true, length: 5, customValues: xMin, lineStyle: tickLine}, axisLabel: {show: false}}));
  xAxes.push(Object.assign({}, xBase, {position: 'top', axisTick: {show: true, inside: true, length: 9, customValues: xMaj, lineStyle: tickLine}, axisLabel: {show: false}}));
  xAxes.push(Object.assign({}, xBase, {position: 'top', axisTick: {show: true, inside: true, length: 5, customValues: xMin, lineStyle: tickLine}, axisLabel: {show: false}}));

  const labVals = pn.yl.map(l => l[0]);
  const yMaj = decades(ylo, yhi);
  labVals.forEach(v => { if (!yMaj.some(m => Math.abs(L10(m) - L10(v)) < 1e-6)) yMaj.push(v); });
  const yMin = minors(ylo, yhi, yMaj);
  const yBase = {gridIndex: gi, type: 'log', logBase: 10, min: P(ylo), max: P(yhi), axisLine: {show: false}, splitLine: {show: false}};
  const yi = yAxes.length;
  yAxes.push(Object.assign({}, yBase, {position: 'left',
    axisTick: {show: true, inside: true, length: 9, customValues: yMaj, lineStyle: tickLine},
    axisLabel: {show: true, customValues: labVals, rotate: 90, margin: 11,
      formatter: v => { const f = pn.yl.find(l => Math.abs(L10(l[0]) - L10(v)) < 1e-3); return f ? (f[2] ? '{m|' + f[1] + '}{s|' + f[2] + '}' : '{m|' + f[1] + '}') : ''; },
      rich: {m: {fontFamily: sans, fontSize: 19, fontWeight: fw, color: fc, lineHeight: 26, verticalAlign: 'middle'},
             s: {fontFamily: sans, fontSize: 13, fontWeight: fw, color: fc, lineHeight: 12, verticalAlign: 'top'}}}}));
  yAxes.push(Object.assign({}, yBase, {position: 'left', axisTick: {show: true, inside: true, length: 5, customValues: yMin, lineStyle: tickLine}, axisLabel: {show: false}}));
  yAxes.push(Object.assign({}, yBase, {position: 'right', axisTick: {show: true, inside: true, length: 9, customValues: yMaj, lineStyle: tickLine}, axisLabel: {show: false}}));
  yAxes.push(Object.assign({}, yBase, {position: 'right', axisTick: {show: true, inside: true, length: 5, customValues: yMin, lineStyle: tickLine}, axisLabel: {show: false}}));

  const ax = {xAxisIndex: xi, yAxisIndex: yi};
  pn.comps.forEach(cp => series.push(Object.assign({type: 'line', data: cp.map(p => [P(p[0]), P(p[1])]), symbol: 'none', smooth: 0.3, silent: true,
    lineStyle: {color: '#3a3a3a', width: 1.3, type: [6, 5]}, z: 2}, ax)));
  if (pn.noise.length) series.push(Object.assign({type: 'custom', renderItem: barItem, clip: true, silent: true, z: 3,
    data: pn.noise.map(p => [P(p[0]), P(p[1]), P(p[2]), P(ylo)])}, ax));
  series.push(Object.assign({type: 'line', data: pn.pts.map(p => [P(p[0]), P(p[1])]), symbol: 'none', silent: true,
    lineStyle: {color: '#111', width: 3.6}, z: 4}, ax));
  series.push(Object.assign({type: 'custom', renderItem: errItem, clip: true, silent: true, z: 5,
    data: pn.pts.map(p => [P(p[0]), P(p[1]), P(p[1] - p[2]), P(p[1] + (p[3] != null ? p[3] : p[2]))])}, ax));
  if (pn.arrow) series.push(Object.assign({type: 'line', data: pn.arrow.map(p => [P(p[0]), P(p[1])]), symbol: 'none', silent: true,
    lineStyle: {color: '#111', width: 1.6}, z: 6}, ax));
  if (pn.marks.length) series.push(Object.assign({type: 'custom', renderItem: markItemFor(pn.marks), clip: false, silent: true, z: 7,
    data: pn.marks.map(m => [P(m[1]), P(m[2])])}, ax));

  // panel name
  const left = (c % 2 === 0);
  graphics.push({type: 'text', z: 10,
    x: left ? colLeft[c] + 20 : colRight[c] - (c === 1 ? 27 : 17), y: rowTop[r] + 37,
    style: {text: pn.name, font: '33px ' + serif, fill: '#111', align: left ? 'left' : 'right', verticalAlign: 'middle'}});
});

// frame, headers, axis titles
graphics.unshift(
  {type: 'rect', z: -1, shape: {x: 0, y: 0, width: 1481, height: 8}, style: {fill: '#008080'}},
  {type: 'rect', z: -1, shape: {x: 0, y: 0, width: 10, height: 1250}, style: {fill: '#008080'}},
  {type: 'rect', z: -1, shape: {x: 0, y: 272, width: 10, height: 108}, style: {fill: new echarts.graphic.LinearGradient(0, 0, 0, 1, [{offset: 0, color: '#7be33a'}, {offset: 0.5, color: '#c8f03c'}, {offset: 1, color: '#56d631'}])}}
);
const headers = [{x: 174, main: 'ν P', sub: 219, size: 36, ss: 22}, {x: 550, main: 'P', sub: 571, size: 36, ss: 22},
  {x: 916, main: 'ν P', sub: 962, size: 36, ss: 22}, {x: 1291, main: 'P', sub: 1307, size: 28, ss: 18}];
headers.forEach(h => {
  graphics.push({type: 'text', x: h.x, y: 29, style: {text: h.main, font: h.size + 'px ' + serif, fill: '#111', align: 'left', verticalAlign: 'middle'}});
  graphics.push({type: 'text', x: h.sub, y: 40, style: {text: 'ν', font: h.ss + 'px ' + serif, fill: '#111', align: 'left', verticalAlign: 'middle'}});
});
[[205, true], [575, true], [1325, false]].forEach(f => graphics.push({type: 'text', x: f[0], y: 1236,
  style: {text: 'Frequency (Hz)', font: (f[1] ? 'bold ' : '') + '20px ' + sans, fill: f[1] ? '#111' : '#666', align: 'center', verticalAlign: 'middle'}}));

const chart = echarts.init(document.getElementById('c'), null, {renderer: 'canvas', width: 1481, height: 1250});
chart.setOption({backgroundColor: '#fff', animation: false, grid: grids, xAxis: xAxes, yAxis: yAxes, series: series, graphic: graphics});
</script></body></html>
